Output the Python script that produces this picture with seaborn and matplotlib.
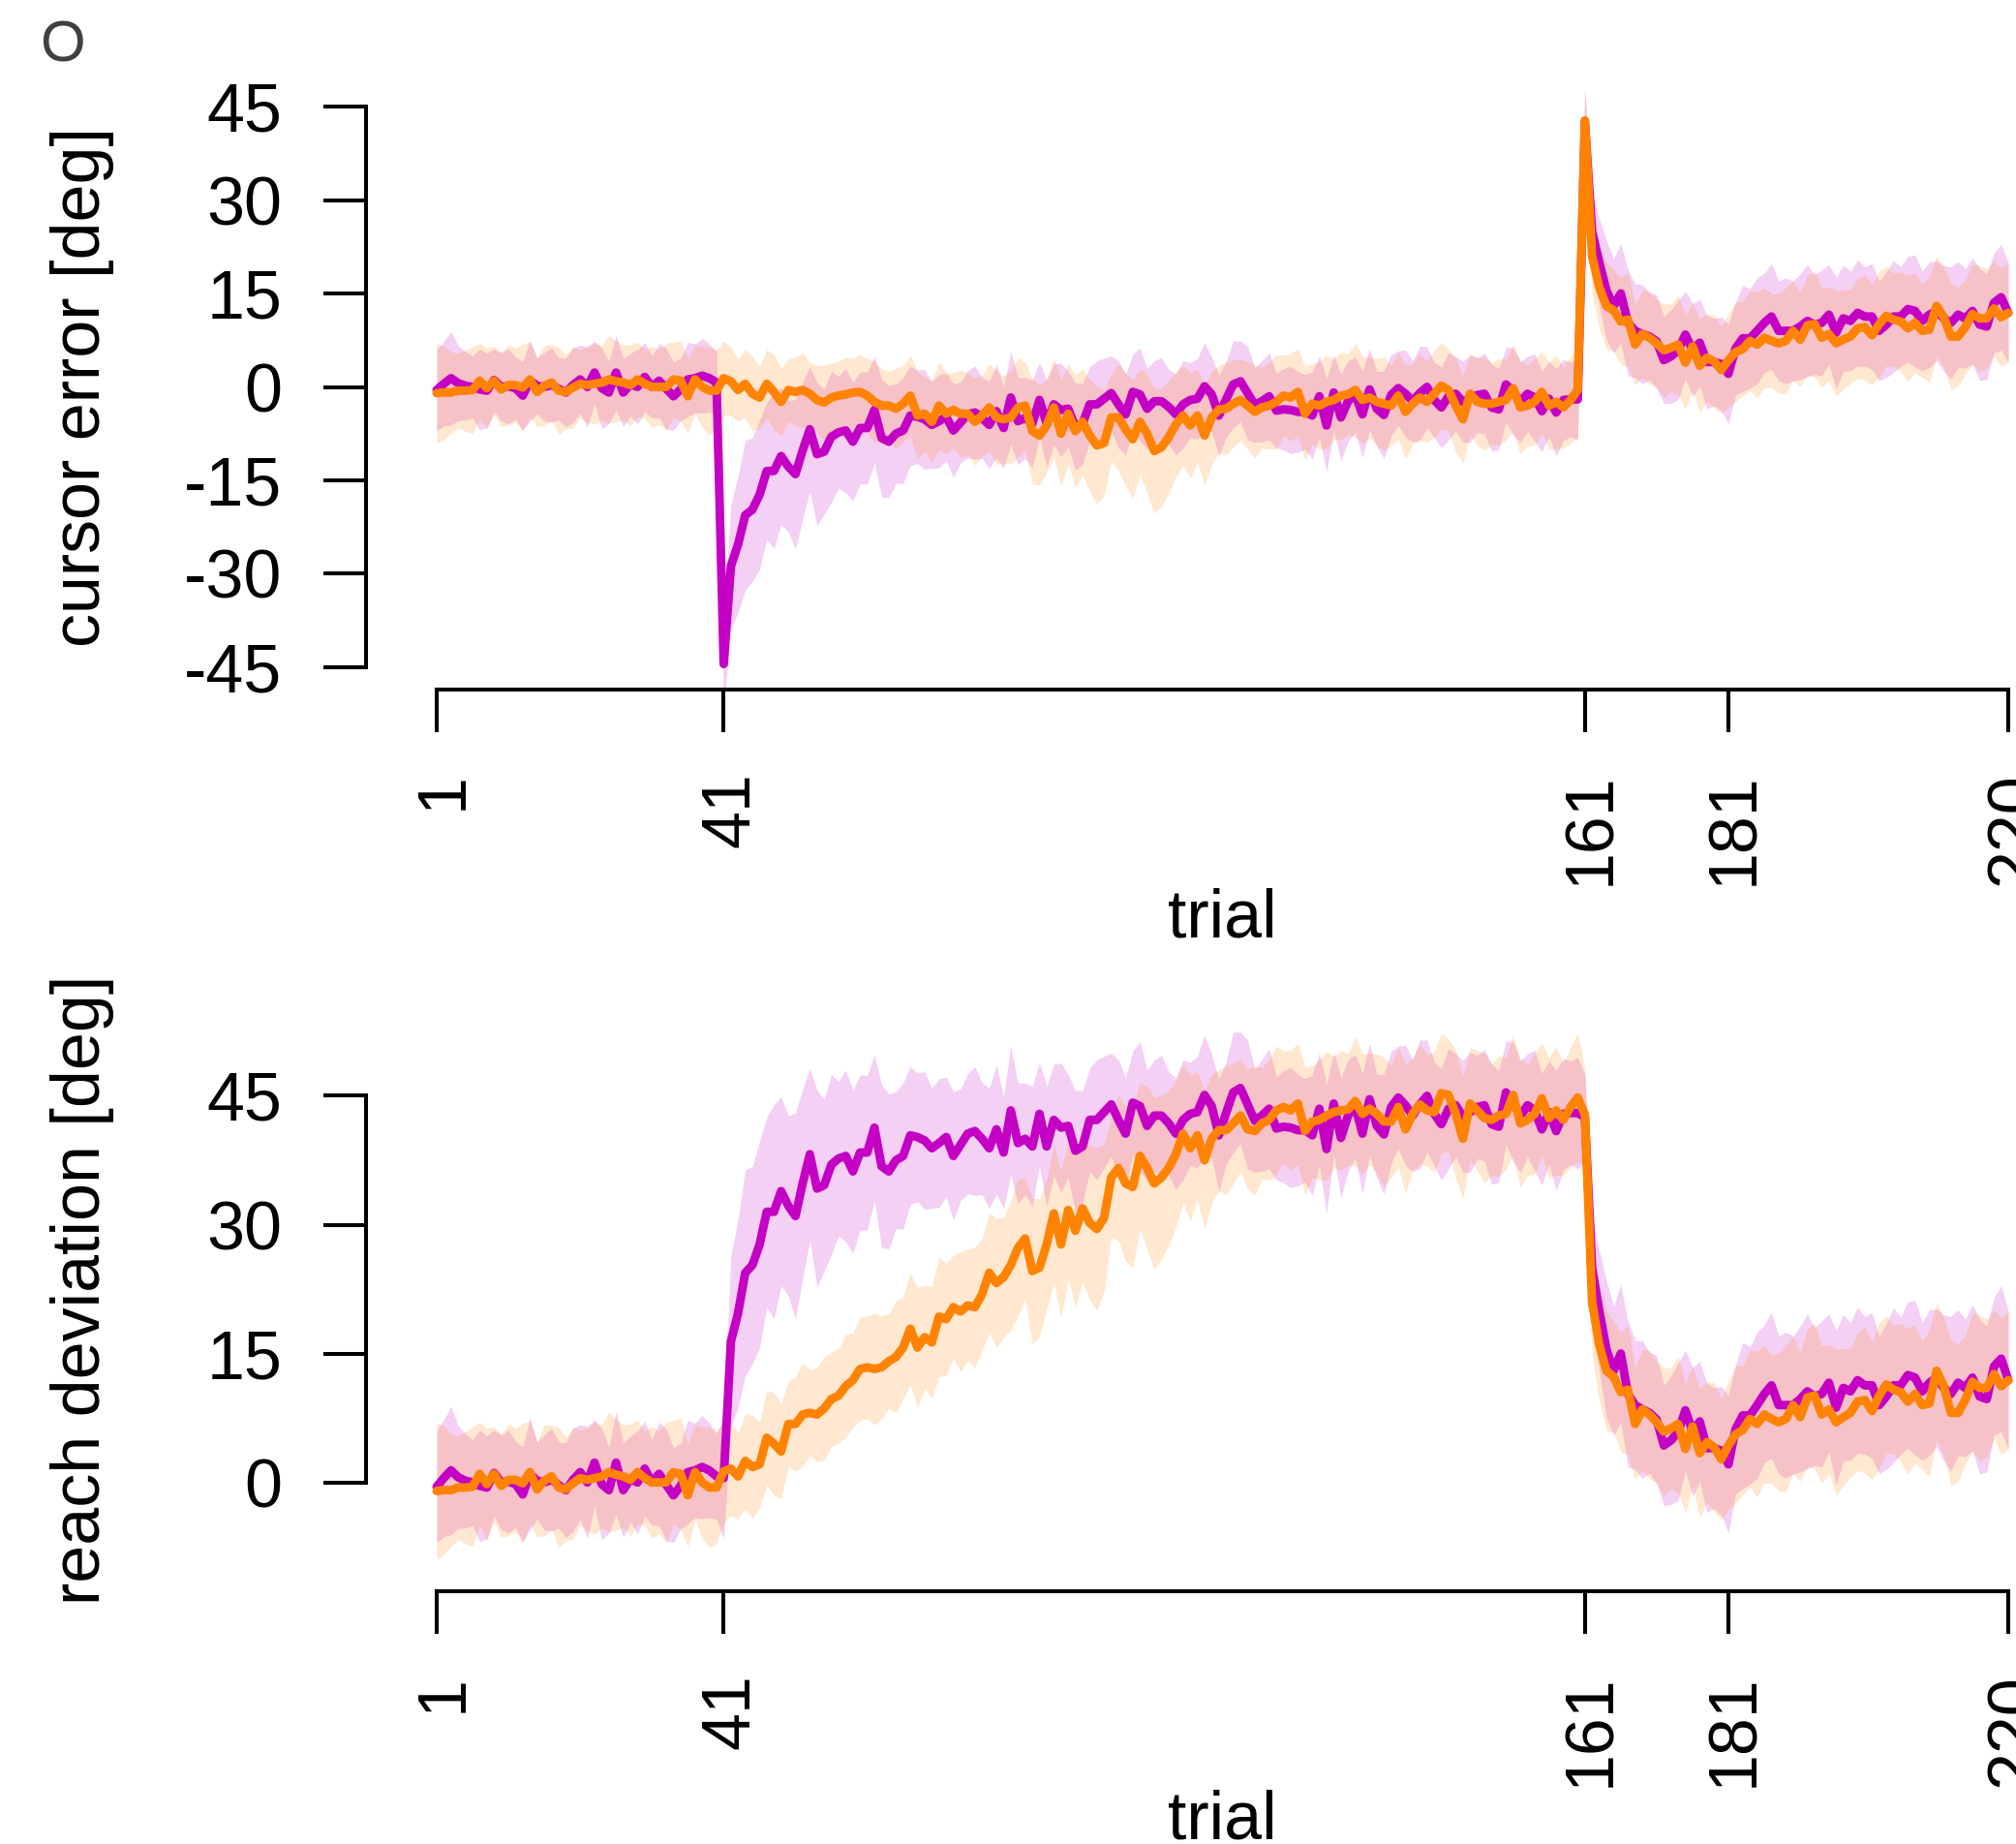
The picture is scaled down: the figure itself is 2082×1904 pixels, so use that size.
import numpy as np
import matplotlib
matplotlib.use("Agg")
import matplotlib.pyplot as plt
import seaborn as sns

# ---------------- data ----------------
trial_ticks = [1, 41, 161, 181, 220]
trial_tick_labels = ["1", "41", "161", "181", "220"]
top_yticks = [-45, -30, -15, 0, 15, 30, 45]
bottom_yticks = [0, 15, 30, 45]

# trials 1-40 (aligned phase, identical in both panels)
baseline_abrupt = [-0.5, 0.5, 1.4, 0.6, 0.2, 0.0, -0.4, -0.6, 1.1, 0.0,
                   0.1, -0.2, -1.4, 1.0, 0.2, 0.0, 0.3, -0.3, -0.9, 0.3,
                   1.2, 0.0, 2.3, -0.2, -0.9, 2.3, -0.9, 0.4, 0.0, 1.6,
                   0.0, 1.0, -0.3, -1.5, -0.4, 1.2, 1.4, 1.8, 1.4, 0.7]
baseline_gradual = [-1.0, -0.9, -0.9, -0.6, -0.6, -0.5, 1.0, -0.2, 1.0, -0.4,
                    0.3, 0.3, -0.1, 1.2, -0.8, 0.2, 0.7, -0.6, -0.8, -0.1,
                    0.5, 0.3, 0.5, 0.7, 1.2, 0.9, 0.7, 0.3, 1.2, 0.5,
                    0.0, 0.0, 0.0, 1.2, 1.0, -1.5, 1.2, 0.0, -0.6, -0.6]

# trials 41-160, reach deviation (bottom panel)
rot_reach_abrupt = [0.5, 16.4, 19.7, 24.4, 25.3, 27.7, 31.5, 31.5, 33.9, 32.2,
                    31.0, 34.8, 38.2, 34.2, 34.6, 37.0, 37.7, 38.0, 36.2, 38.4,
                    38.4, 41.3, 36.8, 36.2, 37.5, 38.0, 40.4, 40.2, 39.8, 38.9,
                    39.5, 40.2, 38.0, 39.3, 40.6, 40.9, 40.0, 38.9, 41.1, 38.4,
                    43.3, 39.5, 40.0, 39.1, 42.9, 39.1, 42.2, 41.3, 41.5, 38.6,
                    39.1, 42.2, 42.2, 43.1, 44.0, 42.2, 40.6, 44.2, 43.8, 41.5,
                    42.7, 42.7, 41.8, 40.6, 42.2, 42.9, 43.1, 45.1, 43.8, 40.4,
                    43.0, 45.4, 45.9, 44.0, 42.1, 42.7, 43.5, 41.2, 41.4, 41.3,
                    41.0, 41.0, 40.4, 43.5, 38.8, 44.1, 40.1, 42.7, 43.8, 40.6,
                    44.6, 41.5, 40.5, 43.7, 44.8, 43.9, 42.7, 44.0, 45.0, 42.9,
                    41.7, 43.5, 43.9, 42.6, 43.1, 43.7, 43.9, 41.7, 41.4, 45.4,
                    44.3, 42.6, 43.9, 43.3, 41.1, 43.1, 40.9, 42.9, 43.0, 43.0]
rot_reach_gradual = [1.3, 1.6, 0.7, 2.5, 1.8, 2.1, 5.2, 4.5, 3.6, 6.8,
                     6.8, 7.9, 8.1, 7.9, 8.6, 9.7, 10.1, 11.2, 11.9, 13.2,
                     13.4, 13.2, 13.4, 14.1, 14.6, 15.7, 17.9, 15.7, 16.9, 16.3,
                     19.3, 19.0, 20.4, 19.9, 20.6, 20.4, 21.9, 24.4, 23.2, 23.9,
                     25.3, 27.3, 28.4, 24.6, 25.0, 27.7, 31.3, 27.7, 31.7, 29.3,
                     31.9, 30.2, 29.5, 30.8, 35.5, 36.6, 34.8, 34.4, 38.0, 36.6,
                     34.8, 35.5, 36.6, 38.2, 40.6, 38.9, 40.4, 37.5, 40.0, 41.0,
                     41.0, 41.8, 42.7, 41.1, 40.9, 41.8, 42.2, 43.3, 43.7, 43.3,
                     44.1, 40.9, 42.0, 42.2, 42.7, 43.1, 43.3, 43.4, 44.4, 42.9,
                     43.5, 42.9, 42.0, 42.0, 43.7, 41.1, 42.9, 44.0, 43.3, 43.1,
                     45.3, 45.1, 42.9, 40.0, 44.1, 43.3, 42.4, 42.2, 42.7, 42.9,
                     45.1, 41.8, 42.2, 42.9, 44.7, 42.4, 43.3, 42.2, 43.7, 44.8]

# trials 41-160, cursor error (top panel)
rot_cursor_abrupt = [-44.5, -28.8, -25.3, -20.6, -19.7, -17.3, -13.5, -13.5, -11.1, -12.8,
                     -14.0, -10.2, -6.8, -10.8, -10.4, -8.0, -7.3, -7.0, -8.8, -6.6,
                     -6.6, -3.7, -8.2, -8.8, -7.5, -7.0, -4.6, -4.8, -5.2, -6.1,
                     -5.5, -4.8, -7.0, -5.7, -4.4, -4.1, -5.0, -6.1, -3.9, -6.6,
                     -1.7, -5.5, -5.0, -5.9, -2.1, -5.9, -2.8, -3.7, -3.5, -6.4,
                     -5.9, -2.8, -2.8, -1.9, -1.0, -2.8, -4.4, -0.8, -1.2, -3.5,
                     -2.3, -2.3, -3.2, -4.4, -2.8, -2.1, -1.9, 0.1, -1.2, -4.6,
                     -2.0, 0.4, 0.9, -1.0, -2.9, -2.3, -1.5, -3.8, -3.6, -3.7,
                     -4.0, -4.0, -4.6, -1.5, -6.2, -0.9, -4.9, -2.3, -1.2, -4.4,
                     -0.4, -3.5, -4.5, -1.3, -0.2, -1.1, -2.3, -1.0, 0.0, -2.1,
                     -3.3, -1.5, -1.1, -2.4, -1.9, -1.3, -1.1, -3.3, -3.6, 0.4,
                     -0.7, -2.4, -1.1, -1.7, -3.9, -1.9, -4.1, -2.1, -2.0, -2.0]
rot_cursor_gradual = [1.4, 0.9, -0.5, 0.5, -1.1, -1.7, 0.5, -0.8, -2.4, -0.5,
                      -0.8, -0.5, -1.1, -2.1, -2.5, -1.7, -1.4, -1.2, -0.9, -0.8,
                      -1.4, -2.4, -3.0, -3.0, -3.5, -2.7, -1.4, -4.6, -4.3, -5.6,
                      -3.0, -4.3, -3.7, -4.3, -4.3, -5.6, -4.6, -3.3, -4.9, -5.2,
                      -4.9, -3.3, -3.0, -7.1, -7.8, -6.2, -3.3, -7.5, -4.3, -7.1,
                      -5.6, -7.8, -9.4, -9.0, -4.9, -4.9, -6.8, -8.4, -5.6, -7.5,
                      -10.3, -9.7, -8.1, -6.0, -4.6, -6.2, -4.6, -7.8, -4.9, -3.6,
                      -3.5, -2.7, -2.1, -3.0, -4.0, -3.3, -3.0, -2.4, -1.4, -1.7,
                      -0.8, -4.3, -2.7, -3.0, -2.4, -2.1, -1.4, -1.2, -0.5, -2.1,
                      -1.7, -2.4, -2.7, -3.0, -1.4, -4.0, -2.7, -1.7, -2.4, -1.1,
                      0.2, -0.5, -3.0, -5.2, -1.1, -2.4, -2.7, -2.7, -2.4, -2.1,
                      -0.2, -3.3, -3.0, -2.4, -0.8, -3.0, -2.4, -3.3, -2.1, -0.5]

# trials 161-220 (identical in both panels)
washout_abrupt = [42.5, 25.0, 20.0, 15.5, 13.0, 15.0, 10.3, 9.0, 8.5, 8.1,
                  7.3, 4.3, 4.9, 5.9, 8.4, 5.9, 7.1, 4.0, 4.0, 3.7,
                  2.1, 6.2, 7.8, 7.8, 9.0, 10.3, 11.3, 9.0, 9.0, 9.0,
                  9.7, 10.6, 10.0, 10.3, 11.6, 8.7, 11.0, 10.6, 11.9, 11.3,
                  11.3, 9.0, 10.0, 11.3, 11.3, 12.5, 12.2, 10.6, 11.6, 12.2,
                  11.0, 10.3, 11.6, 11.0, 12.2, 10.0, 9.7, 13.5, 14.4, 11.9]
washout_gradual = [42.8, 21.0, 16.0, 13.0, 12.3, 10.5, 10.8, 6.8, 8.5, 7.9,
                   7.0, 5.9, 6.3, 6.8, 3.9, 6.5, 3.4, 4.7, 4.1, 2.7,
                   4.3, 5.6, 6.1, 7.4, 6.8, 7.9, 7.4, 7.0, 7.4, 9.0,
                   7.6, 9.9, 10.1, 7.9, 8.5, 7.0, 7.6, 8.1, 9.4, 9.6,
                   8.3, 10.1, 11.4, 10.8, 10.5, 9.4, 10.3, 9.0, 9.2, 13.0,
                   11.2, 8.1, 8.1, 9.6, 11.7, 11.0, 11.0, 12.6, 11.2, 11.9]

# confidence-interval half widths, trials 1-220
ci_abrupt = [6.5, 6.8, 7.5, 6.0, 5.5, 5.0, 6.5, 6.0, 5.0, 5.5, 6.0, 5.0, 5.5, 6.5, 4.5, 5.5, 6.0, 5.0, 5.5, 6.0,
             5.5, 6.5, 5.0, 6.5, 5.0, 6.0, 5.5, 5.0, 6.0, 5.5, 5.0, 6.0, 6.5, 5.5, 5.0, 6.0, 5.5, 6.0, 5.5, 5.0,
             7.0, 10.0, 11.0, 12.0, 11.5, 12.0, 11.0, 12.5, 11.0, 10.5, 12.0, 11.0, 10.0, 11.5, 10.0, 10.5, 9.0, 10.0, 9.5, 9.0,
             9.0, 8.5, 9.5, 9.0, 8.0, 8.5, 8.0, 7.5, 8.0, 7.0, 7.5, 7.0, 7.5, 6.5, 7.0, 7.5, 6.5, 7.0, 7.5, 6.5,
             7.5, 7.0, 6.5, 7.0, 6.0, 7.0, 6.5, 7.5, 6.0, 7.0, 6.5, 6.0, 7.0, 6.5, 6.0, 7.0, 6.5, 6.0, 7.5, 6.5,
             6.5, 7.0, 6.0, 6.5, 7.0, 6.0, 6.5, 7.0, 6.0, 6.5, 6.0, 7.0, 6.5, 7.5, 6.0, 6.5, 7.0, 6.0, 6.5, 7.0,
             6.5, 6.0, 7.0, 6.5, 7.5, 6.0, 7.0, 6.5, 6.0, 7.0, 6.5, 6.0, 7.0, 6.5, 6.0, 7.0, 6.5, 7.5, 6.5, 6.0,
             6.5, 7.0, 6.0, 6.5, 7.0, 6.0, 6.5, 7.0, 6.5, 6.0, 7.0, 6.5, 6.0, 7.0, 6.5, 6.0, 7.0, 6.5, 6.0, 6.5,
             5.0, 6.0, 7.0, 8.0, 7.5, 8.0, 8.5, 7.5, 8.0, 7.0, 7.5, 7.0, 7.5, 8.0, 7.0, 7.5, 7.0, 7.5, 7.0, 7.5,
             8.0, 7.5, 8.5, 8.0, 8.5, 8.0, 8.5, 8.0, 8.5, 8.0, 8.5, 9.0, 8.0, 8.5, 8.0, 9.0, 8.5, 8.0, 8.5, 8.0,
             8.5, 8.0, 8.5, 9.0, 8.0, 8.5, 9.0, 8.0, 8.5, 8.0, 8.5, 9.0, 8.5, 8.0, 8.5, 9.0, 8.5, 8.0, 8.5, 8.0]
ci_gradual = [8.0, 7.5, 6.5, 6.0, 6.5, 7.0, 6.0, 6.5, 5.5, 6.0, 6.5, 6.0, 7.0, 6.0, 5.5, 6.5, 6.0, 7.0, 6.0, 6.5,
              5.5, 6.0, 6.5, 6.0, 7.0, 6.5, 6.0, 6.5, 6.0, 5.5, 6.5, 6.0, 7.0, 6.0, 6.5, 6.0, 5.5, 6.5, 7.0, 6.5,
              6.0, 5.5, 5.0, 5.5, 6.0, 5.0, 5.5, 6.0, 5.5, 5.0, 5.5, 6.0, 5.0, 5.5, 6.0, 5.5, 5.5, 6.0, 5.5, 6.0,
              6.0, 6.5, 6.0, 5.5, 6.5, 6.0, 6.5, 7.0, 6.0, 6.5, 7.0, 6.5, 6.0, 7.0, 6.5, 7.0, 6.5, 7.0, 7.5, 7.0,
              7.5, 8.0, 7.0, 8.5, 8.0, 7.5, 8.0, 8.5, 8.0, 9.0, 8.5, 9.0, 9.5, 8.5, 7.0, 8.5, 9.0, 9.5, 8.5, 9.5,
              10.0, 9.5, 9.0, 8.5, 8.0, 8.5, 7.5, 8.0, 7.5, 7.0, 7.5, 7.0, 6.5, 7.0, 7.5, 6.5, 7.0, 7.5, 6.5, 7.0,
              7.0, 7.5, 6.5, 7.0, 7.5, 6.5, 7.0, 6.5, 7.5, 7.0, 6.5, 7.0, 7.5, 6.5, 7.0, 7.5, 6.5, 7.0, 6.5, 7.0,
              7.0, 6.5, 7.5, 7.0, 6.5, 7.0, 7.5, 6.5, 7.0, 6.5, 7.0, 7.5, 6.5, 7.0, 6.5, 7.0, 7.5, 6.5, 7.0, 7.5,
              5.5, 6.0, 6.5, 7.0, 6.5, 7.0, 7.5, 6.5, 7.0, 7.5, 7.0, 7.5, 7.0, 8.0, 7.5, 7.0, 7.5, 7.0, 7.5, 7.0,
              7.5, 8.0, 7.5, 8.0, 8.5, 8.0, 7.5, 8.0, 8.5, 8.0, 7.5, 8.0, 8.5, 8.0, 7.5, 8.5, 8.0, 7.5, 8.0, 8.5,
              8.0, 8.5, 8.0, 7.5, 8.0, 8.5, 8.0, 7.5, 8.5, 8.0, 8.0, 8.5, 8.0, 7.5, 8.0, 8.5, 8.0, 7.5, 8.0, 8.0]

# ---------------- assemble series ----------------
trials = np.arange(1, 221)
reach_abrupt = np.array(baseline_abrupt + rot_reach_abrupt + washout_abrupt)
reach_gradual = np.array(baseline_gradual + rot_reach_gradual + washout_gradual)
cursor_abrupt = np.array(baseline_abrupt + rot_cursor_abrupt + washout_abrupt)
cursor_gradual = np.array(baseline_gradual + rot_cursor_gradual + washout_gradual)
ci_a = np.array(ci_abrupt)
ci_g = np.array(ci_gradual)

PURPLE = "#c400c4"
ORANGE = "#ff8200"
FILL_ALPHA = 0x2f / 255

# ---------------- figure ----------------
sns.set_style("white")
plt.rcParams["font.family"] = ["Liberation Sans", "DejaVu Sans"]
plt.rcParams["text.color"] = "black"
plt.rcParams["axes.labelcolor"] = "black"

W, H, DPI = 2082, 1904, 100
fig = plt.figure(figsize=(W / DPI, H / DPI), dpi=DPI)
fig.patch.set_facecolor("white")


def px_axes(left, top, right, bottom):
    return fig.add_axes([left / W, 1 - bottom / H, (right - left) / W, (bottom - top) / H])


AX_LEFT, AX_RIGHT = 378, 2147
ax_top = px_axes(AX_LEFT, 87, AX_RIGHT, 712)
ax_bot = px_axes(AX_LEFT, 1019.7, AX_RIGHT, 1643.3)

FS = 50.4
LW_AX = 2.9
LW_DATA = 6.4
panels = [
    (ax_top, cursor_abrupt, cursor_gradual, (-48.6, 48.6), top_yticks, "cursor error [deg]", 625.0),
    (ax_bot, reach_abrupt, reach_gradual, (-12.7, 57.6), bottom_yticks, "reach deviation [deg]", 623.6),
]

for ax, ya, yg, ylim, yt, ylab, hpx in panels:
    ax.set_facecolor("white")
    for vals, ci, col in [(ya, ci_a, PURPLE), (yg, ci_g, ORANGE)]:
        ax.fill_between(trials, vals - ci, vals + ci, color=col, alpha=FILL_ALPHA, lw=0)
    for vals, col in [(ya, PURPLE), (yg, ORANGE)]:
        sns.lineplot(x=trials, y=vals, color=col, linewidth=LW_DATA, ax=ax, errorbar=None)
    for line in ax.get_lines():
        line.set_linewidth(LW_DATA)
        line.set_solid_joinstyle("round")
        line.set_solid_capstyle("round")

    ax.set_xlim(-8.84, 229.84)
    ax.set_ylim(*ylim)
    ax.grid(False)
    for s in ["top", "right"]:
        ax.spines[s].set_visible(False)
    ax.spines["left"].set_bounds(yt[0], yt[-1])
    ax.spines["bottom"].set_bounds(trial_ticks[0], trial_ticks[-1])
    for s in ["left", "bottom"]:
        ax.spines[s].set_linewidth(LW_AX)
        ax.spines[s].set_color("black")

    ax.set_yticks(yt)
    ax.set_yticklabels([str(v) for v in yt])
    ax.set_xticks(trial_ticks)
    ax.set_xticklabels(trial_tick_labels)
    ax.tick_params(axis="both", which="major", direction="out", length=32, width=LW_AX,
                   color="black", labelsize=FS, labelcolor="black",
                   bottom=True, left=True, top=False, right=False)
    ax.tick_params(axis="x", pad=29.5)
    ax.tick_params(axis="y", pad=30.2)
    plt.setp(ax.get_xticklabels(), rotation=90, rotation_mode="anchor",
             ha="right", va="center_baseline")
    plt.setp(ax.get_yticklabels(), va="center_baseline")

    ax.set_ylabel(ylab, fontsize=FS, va="baseline", color="black")
    ax.yaxis.set_label_coords((103 - AX_LEFT) / (AX_RIGHT - AX_LEFT), 0.5)
    ax.set_xlabel("trial", fontsize=FS, va="baseline", color="black")
    ax.xaxis.set_label_coords(0.5, -255.0 / hpx)

fig.text(64.5 / W, 1 - 64 / H, "O", fontsize=43, color="#404040", ha="center", va="baseline")

fig.savefig("out.png", dpi=DPI)
